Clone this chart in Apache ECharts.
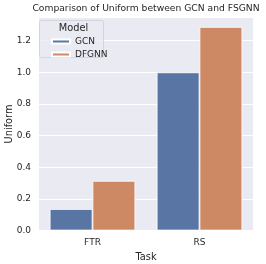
<!DOCTYPE html>
<html><head><meta charset="utf-8">
<script src="https://cdn.jsdelivr.net/npm/echarts@6/dist/echarts.min.js"></script>
<style>html,body{margin:0;padding:0;background:#fff}#c{width:266px;height:264px}</style>
</head><body><div id="c"></div>
<script>
const categories = ['FTR', 'RS'];
const gcnValues = [0.136, 1.0];
const dfgnnValues = [0.314, 1.287];
const seriesNames = ['GCN', 'DFGNN'];
const yTicks = [0, 0.2, 0.4, 0.6, 0.8, 1.0, 1.2];

const chart = echarts.init(document.getElementById('c'), null, {renderer: 'canvas'});
const txt = '#262626';
const font = 'DejaVu Sans';
chart.setOption({
  animation: false,
  backgroundColor: '#ffffff',
  grid: {left: 39, right: 13, top: 17, bottom: 33.5, show: true, backgroundColor: '#eaeaf2', borderWidth: 0,
         containLabel: false, outerBoundsMode: 'none'},
  legend: {
    data: seriesNames, orient: 'vertical', left: 46, top: 32,
    itemWidth: 18, itemHeight: 4, itemGap: 4, z: 10,
    icon: 'rect',
    textStyle: {fontFamily: font, fontSize: 9, color: txt}
  },
  graphic: [
    {type: 'text', x: 146, y: 4, z: 10,
     style: {text: 'Comparison of Uniform between GCN and FSGNN', fontFamily: font, fontSize: 9.2, fill: txt, textAlign: 'center', textVerticalAlign: 'top'}},
    {type: 'rect', x: 39.5, y: 20.5, z: 1, shape: {width: 64, height: 37, r: 2},
     style: {fill: 'rgba(234,234,242,0.8)', stroke: '#d4d4dc', lineWidth: 1}},
    {type: 'text', x: 73.5, y: 23, z: 10, style: {text: 'Model', fontFamily: font, fontSize: 9.8, fill: txt, textAlign: 'center', textVerticalAlign: 'top'}},
    {type: 'text', x: 9.5, y: 124, rotation: Math.PI / 2, z: 10,
     style: {text: 'Uniform', fontFamily: font, fontSize: 9.8, fill: txt, textAlign: 'center', textVerticalAlign: 'middle'}}
  ],
  xAxis: {
    type: 'category', data: categories,
    name: 'Task', nameLocation: 'middle', nameGap: 19,
    nameTextStyle: {fontFamily: font, fontSize: 9.8, color: txt},
    axisLine: {show: false}, axisTick: {show: false},
    axisLabel: {fontFamily: font, fontSize: 9, color: txt, margin: 8},
    splitLine: {show: false}
  },
  yAxis: {
    type: 'value', min: 0, max: 1.35, interval: 0.2,
    axisLine: {show: false}, axisTick: {show: false},
    axisLabel: {fontFamily: font, fontSize: 9, color: txt, margin: 8, showMaxLabel: true,
      formatter: v => yTicks.some(t => Math.abs(t - v) < 1e-6) ? v.toFixed(1) : ''},
    splitLine: {lineStyle: {color: '#ffffff', width: 1}}
  },
  series: [
    {name: seriesNames[0], type: 'bar', data: gcnValues, barGap: '0%', barCategoryGap: '20%',
     itemStyle: {color: '#5975a4', borderColor: '#ffffff', borderWidth: 0.8}, z: 3},
    {name: seriesNames[1], type: 'bar', data: dfgnnValues, barGap: '0%', barCategoryGap: '20%',
     itemStyle: {color: '#cc8963', borderColor: '#ffffff', borderWidth: 0.8}, z: 3}
  ]
});
</script></body></html>
